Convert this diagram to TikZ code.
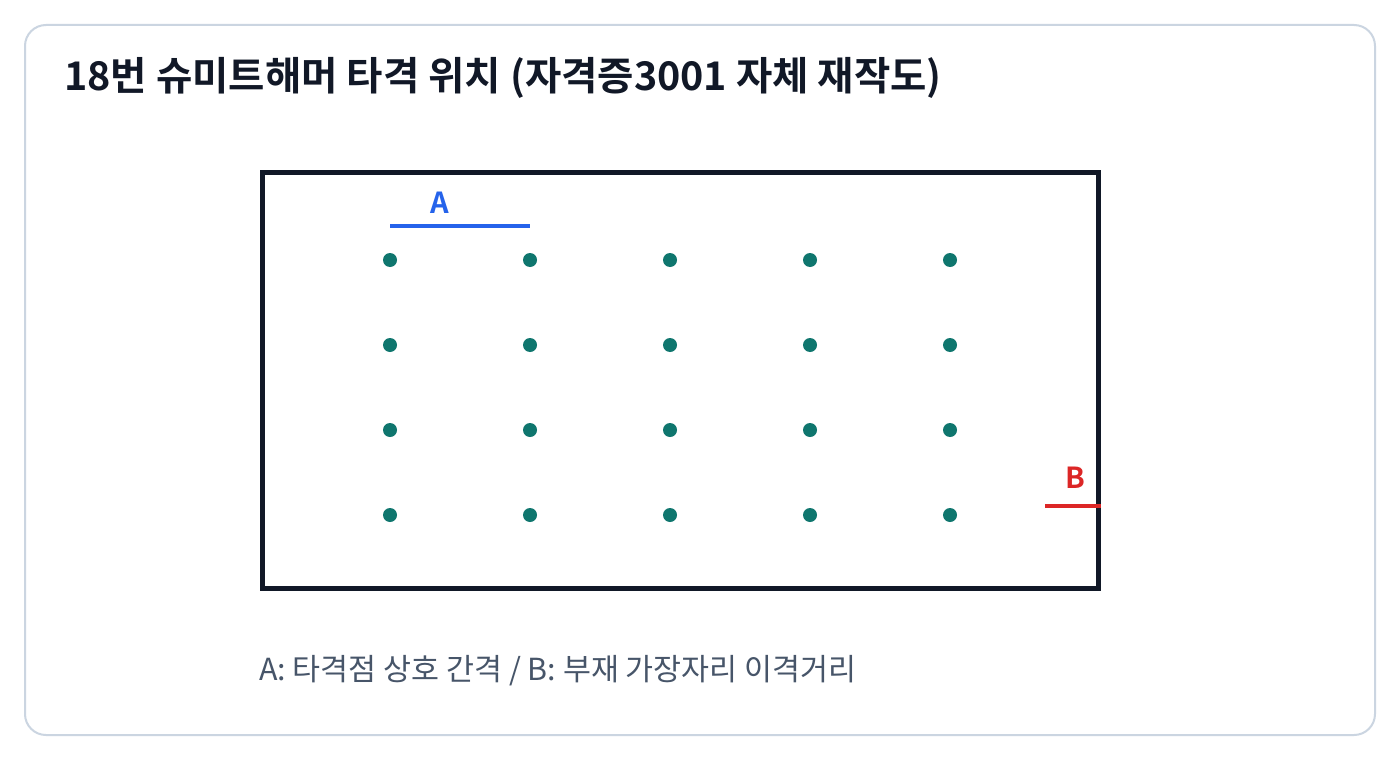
\documentclass[tikz,border=0pt]{standalone}
\usepackage{fontspec}
\setmainfont{Noto Sans CJK KR}
\newfontfamily\krbold{Noto Sans CJK KR Bold}
\definecolor{frame}{HTML}{CBD5E1}
\definecolor{ink}{HTML}{111827}
\definecolor{dotc}{HTML}{0F766E}
\definecolor{ablue}{HTML}{2563EB}
\definecolor{bred}{HTML}{DC2626}
\definecolor{capc}{HTML}{475569}
\tikzset{
  px/.style={x=1pt,y=-1pt},
  dotn/.style={circle,fill=dotc,inner sep=0pt,minimum size=14pt},
  lbl/.style={inner sep=0pt,font=\krbold\fontsize{29}{29}\selectfont}
}
\begin{document}
\begin{tikzpicture}[px]
\useasboundingbox (0,0) rectangle (1400,760);
\fill[white] (0,0) rectangle (1400,760);
\draw[frame,line width=2pt,rounded corners=21pt] (25,25) rectangle (1375,735);
\node[anchor=base west,inner sep=0pt,text=ink,font=\krbold\fontsize{39.5}{39.5}\selectfont] (title) at (64,91) {18번 슈미트해머 타격 위치 (자격증3001 자체 재작도)};
\draw[ink,line width=5pt] (262.5,172.5) rectangle (1098.5,588);
\foreach \c [count=\i] in {390,530,670,810,950}{
  \foreach \r [count=\j] in {260,345,430,515}{
    \node[dotn] (d\i\j) at (\c,\r) {};
  }
}
\coordinate (a1) at (390,226);
\coordinate (a2) at (530,226);
\draw[ablue,line width=4pt] (a1) -- (a2);
\node[lbl,text=ablue,anchor=base] (la) at (440,213) {A};
\coordinate (b1) at (1045,505.5);
\coordinate (b2) at (1101,505.5);
\draw[bred,line width=4pt] (b1) -- (b2);
\node[lbl,text=bred,anchor=base] (lb) at (1075,488) {B};
\node[anchor=base west,inner sep=0pt,text=capc,font=\fontsize{30.4}{30.4}\selectfont] (cap) at (259,680) {A: 타격점 상호 간격 / B: 부재 가장자리 이격거리};
\end{tikzpicture}
\end{document}
